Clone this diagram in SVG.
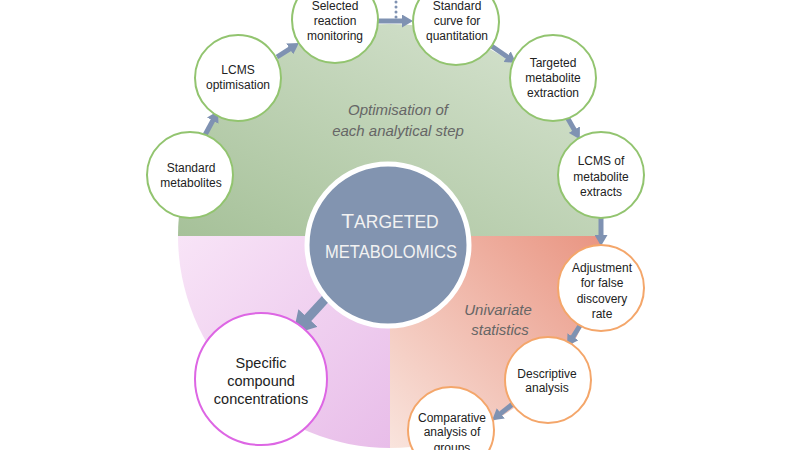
<svg xmlns="http://www.w3.org/2000/svg" width="800" height="450" viewBox="0 0 800 450">
<defs>
<linearGradient id="gGreen" x1="0" y1="1" x2="1" y2="0">
<stop offset="0" stop-color="#a6c199"/>
<stop offset="1" stop-color="#d9e5d3"/>
</linearGradient>
<linearGradient id="gOrange" x1="1" y1="0" x2="0" y2="1">
<stop offset="0" stop-color="#e99582"/>
<stop offset="1" stop-color="#f9e4dd"/>
</linearGradient>
<linearGradient id="gPink" x1="0" y1="0" x2="1" y2="1">
<stop offset="0" stop-color="#f8e4f7"/>
<stop offset="1" stop-color="#e8bde9"/>
</linearGradient>
<marker id="ah" viewBox="0 0 11 13" refX="2" refY="6.5" markerWidth="11" markerHeight="13" markerUnits="userSpaceOnUse" orient="auto">
<path d="M0,0 L11,6.5 L0,13 z" fill="#7f92b2"/>
</marker>
<marker id="ahBig" viewBox="0 0 22 26" refX="2" refY="13" markerWidth="22" markerHeight="26" markerUnits="userSpaceOnUse" orient="auto">
<path d="M0,0 L22,13 L0,26 z" fill="#7f92b2"/>
</marker>
<style>
.conn{stroke:#7f92b2;stroke-width:5;fill:none;marker-end:url(#ah)}
.big{stroke:#7f92b2;stroke-width:9;fill:none;marker-end:url(#ahBig)}
.gc{fill:#fff;stroke:#92c46f;stroke-width:2}
.oc{fill:#fff;stroke:#f4a66a;stroke-width:2}
.pc{fill:#fff;stroke:#dd66e4;stroke-width:2}
.t{font-family:"Liberation Sans",Arial,sans-serif;font-size:12px;fill:#222;text-anchor:middle}
.tl{font-family:"Liberation Sans",Arial,sans-serif;font-size:14.5px;fill:#222;text-anchor:middle}
.it{font-family:"Liberation Sans",Arial,sans-serif;font-size:15px;font-style:italic;fill:#666;text-anchor:middle}
.ct{font-family:"Liberation Sans",Arial,sans-serif;fill:#f2f2f2;text-anchor:middle}
</style>
</defs>
<rect width="800" height="450" fill="#fff"/>
<g id="background">
<path d="M178,236 A212,212 0 0 1 602,236 Z" fill="url(#gGreen)"/>
<path d="M178,236 L390,236 L390,448 A212,212 0 0 1 178,236 Z" fill="url(#gPink)"/>
<path d="M390,236 L602,236 A212,212 0 0 1 390,448 Z" fill="url(#gOrange)"/>
<text class="it" x="398" y="115">Optimisation of</text>
<text class="it" x="398" y="136">each analytical step</text>
<text class="it" x="498" y="315">Univariate</text>
<text class="it" x="500" y="335">statistics</text>
</g>
<g id="connectors">
<line class="conn" x1="205" y1="135" x2="213.7" y2="118.9"/>
<line class="conn" x1="277" y1="57" x2="291.4" y2="47.8"/>
<line class="conn" x1="376" y1="21" x2="404" y2="21"/>
<line x1="396" y1="2" x2="396" y2="18" stroke="#7f92b2" stroke-width="3" stroke-linecap="round" stroke-dasharray="0 5"/>
<line class="conn" x1="490" y1="45" x2="508.7" y2="57.8"/>
<line class="conn" x1="567" y1="117" x2="575.3" y2="131.4"/>
<line class="conn" x1="601" y1="216" x2="601" y2="237"/>
<line class="conn" x1="581" y1="324" x2="571.9" y2="338.5"/>
<line class="conn" x1="514" y1="403" x2="499.2" y2="414.6"/>
<line class="big" x1="340" y1="283" x2="306.6" y2="319.4"/>
</g>
<g id="center">
<circle cx="388" cy="245" r="81" fill="#8294b0" stroke="#fff" stroke-width="5"/>
<text class="ct" x="390" y="228"><tspan font-size="21">T</tspan><tspan font-size="17.5">ARGETED</tspan></text>
<text class="ct" x="391" y="258" font-size="17.5" textLength="132" lengthAdjust="spacingAndGlyphs">METABOLOMICS</text>
</g>
<g id="n-standard-metabolites">
<circle class="gc" cx="190" cy="175" r="43"/>
<text class="t" x="191" y="172">Standard</text>
<text class="t" x="191" y="187">metabolites</text>
</g>
<g id="n-lcms-optimisation">
<circle class="gc" cx="238" cy="78" r="43"/>
<text class="t" x="238" y="74">LCMS</text>
<text class="t" x="238" y="89">optimisation</text>
</g>
<g id="n-srm">
<circle class="gc" cx="335" cy="20" r="43"/>
<text class="t" x="335" y="10">Selected</text>
<text class="t" x="335" y="25">reaction</text>
<text class="t" x="335" y="40">monitoring</text>
</g>
<g id="n-standard-curve">
<circle class="gc" cx="456" cy="22" r="43"/>
<text class="t" x="457" y="10">Standard</text>
<text class="t" x="457" y="25">curve for</text>
<text class="t" x="457" y="40">quantitation</text>
</g>
<g id="n-targeted-extraction">
<circle class="gc" cx="553" cy="78" r="43"/>
<text class="t" x="553" y="67">Targeted</text>
<text class="t" x="553" y="82">metabolite</text>
<text class="t" x="553" y="97">extraction</text>
</g>
<g id="n-lcms-extracts">
<circle class="gc" cx="601" cy="175" r="43"/>
<text class="t" x="601" y="165">LCMS of</text>
<text class="t" x="601" y="181">metabolite</text>
<text class="t" x="601" y="196">extracts</text>
</g>
<g id="n-adjustment">
<circle class="oc" cx="601" cy="288" r="43"/>
<text class="t" x="602" y="272">Adjustment</text>
<text class="t" x="602" y="287">for false</text>
<text class="t" x="602" y="303">discovery</text>
<text class="t" x="602" y="318">rate</text>
</g>
<g id="n-descriptive">
<circle class="oc" cx="548" cy="380" r="43"/>
<text class="t" x="547" y="378">Descriptive</text>
<text class="t" x="547" y="392">analysis</text>
</g>
<g id="n-comparative">
<circle class="oc" cx="451" cy="430" r="43"/>
<text class="t" x="452" y="422">Comparative</text>
<text class="t" x="452" y="436">analysis of</text>
<text class="t" x="452" y="452">groups</text>
</g>
<g id="n-specific">
<circle class="pc" cx="261" cy="379" r="66"/>
<text class="tl" x="261" y="368">Specific</text>
<text class="tl" x="261" y="386">compound</text>
<text class="tl" x="261" y="404">concentrations</text>
</g>
</svg>
